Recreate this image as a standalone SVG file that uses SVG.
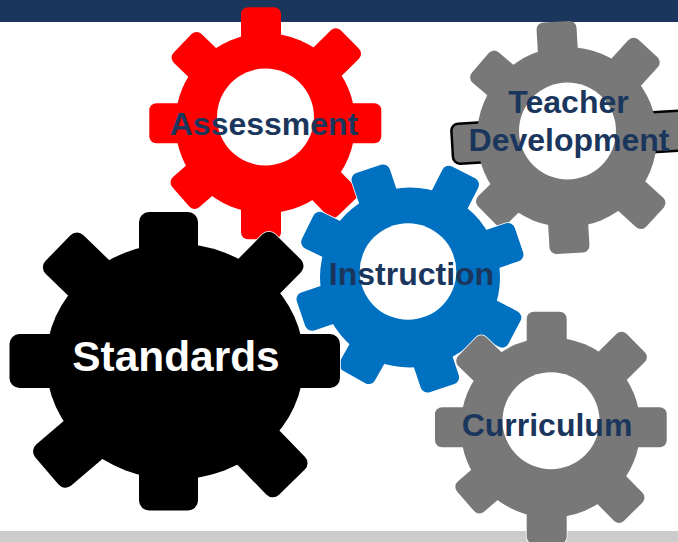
<svg xmlns="http://www.w3.org/2000/svg" width="678" height="542" viewBox="0 0 678 542">
<style>
.lbl{font-family:"Liberation Sans",Arial,sans-serif;font-weight:700;font-size:32px;fill:#1b365d;text-anchor:middle}
.hole{fill:#fff}
.halo{stroke:#fff;stroke-width:1.5}
</style>
<defs>
<g id="red-s">
<circle cx="265.3" cy="123.3" r="90"/>
<rect x="241" y="7.3" width="40" height="232" rx="7"/>
<rect x="149.3" y="103.3" width="232" height="40" rx="7"/>
<rect x="-20" y="-115" width="40" height="115" rx="7" transform="translate(265.3 123.3) rotate(-46)"/>
<rect x="-20" y="-119" width="40" height="119" rx="7" transform="translate(265.3 123.3) rotate(45.3)"/>
<rect x="-20" y="-112" width="40" height="112" rx="7" transform="translate(265.3 123.3) rotate(-131)"/>
<rect x="-20" y="-117" width="40" height="117" rx="7" transform="translate(265.3 123.3) rotate(135.7)"/>
</g>
<g id="td-s">
<circle cx="567" cy="137" r="90"/>
<rect x="-20" y="-116" width="40" height="232" rx="7" transform="translate(563 137.5) rotate(-3.4)"/>
<rect x="-20" y="-114" width="40" height="114" rx="7" transform="translate(567 137) rotate(-49.5)"/>
<rect x="-20" y="-120" width="40" height="120" rx="7" transform="translate(567 137) rotate(42.4)"/>
<rect x="-20" y="-112" width="40" height="112" rx="7" transform="translate(567 137) rotate(-134.5)"/>
<rect x="-20" y="-119" width="40" height="119" rx="7" transform="translate(567 137) rotate(132.4)"/>
</g>
<g id="blue-s">
<circle cx="410" cy="277.5" r="90"/>
<rect x="-20" y="-115.5" width="40" height="231" rx="7" transform="translate(405.3 278.5) rotate(-18.5)"/>
<rect x="-20" y="-115" width="40" height="230" rx="7" transform="translate(410 276.9) rotate(71.3)"/>
<rect x="-20" y="-118" width="40" height="118" rx="7" transform="translate(410 277.5) rotate(27)"/>
<rect x="-20" y="-114" width="40" height="114" rx="7" transform="translate(410 277.5) rotate(-150.6)"/>
<rect x="-20" y="-114" width="40" height="114" rx="7" transform="translate(410 277.5) rotate(-63.9)"/>
<rect x="-20" y="-118" width="40" height="118" rx="7" transform="translate(410 277.5) rotate(117.7)"/>
</g>
<g id="black-s">
<ellipse cx="175" cy="361.5" rx="129" ry="118"/>
<rect x="139" y="212" width="59" height="298.5" rx="10"/>
<rect x="9.5" y="334" width="330.5" height="54" rx="10"/>
<rect x="-27" y="-163" width="54" height="163" rx="9" transform="translate(175 361.5) rotate(-45.9)"/>
<rect x="-27" y="-161" width="54" height="161" rx="9" transform="translate(175 361.5) rotate(44.6)"/>
<rect x="-27" y="-168.5" width="54" height="168.5" rx="9" transform="translate(175 361.5) rotate(-130.5)"/>
<rect x="-27" y="-168" width="54" height="168" rx="9" transform="translate(175 361.5) rotate(135.9)"/>
</g>
<g id="cur-s">
<circle cx="550.5" cy="427.5" r="90"/>
<rect x="526.7" y="311.7" width="40" height="232" rx="7"/>
<rect x="435" y="407.3" width="231.7" height="40" rx="7"/>
<rect x="-20" y="-116" width="40" height="116" rx="7" transform="translate(550.5 427.5) rotate(-45.9)"/>
<rect x="-20" y="-120" width="40" height="120" rx="7" transform="translate(550.5 427.5) rotate(45.2)"/>
<rect x="-20" y="-112.5" width="40" height="112.5" rx="7" transform="translate(550.5 427.5) rotate(-131)"/>
<rect x="-20" y="-118" width="40" height="118" rx="7" transform="translate(550.5 427.5) rotate(135.6)"/>
</g>
</defs>
<rect width="678" height="542" fill="#fff"/>
<rect id="header-bar" width="678" height="22" fill="#1b365d"/>
<rect id="footer-bar" y="531" width="678" height="11" fill="#ccc"/>
<g id="assessment" fill="#f00">
<use href="#red-s"/>
<circle class="hole" cx="265.5" cy="117" r="48.5"/>
<text class="lbl" x="264" y="135">Assessment</text>
</g>
<g id="teacher-development" fill="#787878">
<rect x="-111" y="-20" width="240" height="40" rx="7" stroke="#000" stroke-width="2.5" transform="translate(563 137.5) rotate(-3.4)"/>
<use href="#td-s"/>
<circle class="hole" cx="567.5" cy="131" r="48.5"/>
<text class="lbl" x="568.5" y="113">Teacher</text>
<text class="lbl" x="569" y="151">Development</text>
</g>
<g id="instruction" fill="#0070c0">
<use href="#blue-s" class="halo"/><use href="#blue-s"/>
<circle class="hole" cx="408" cy="271.5" r="48.3"/>
<text class="lbl" x="411.5" y="285">Instruction</text>
</g>
<g id="standards" fill="#000">
<use href="#black-s" class="halo"/><use href="#black-s"/>
<text class="lbl" x="176" y="371" style="font-size:42.4px;fill:#fff">Standards</text>
</g>
<g id="curriculum" fill="#787878">
<use href="#cur-s" class="halo"/><use href="#cur-s"/>
<circle class="hole" cx="551" cy="420.8" r="48.5"/>
<text class="lbl" x="547" y="436">Curriculum</text>
</g>
</svg>
